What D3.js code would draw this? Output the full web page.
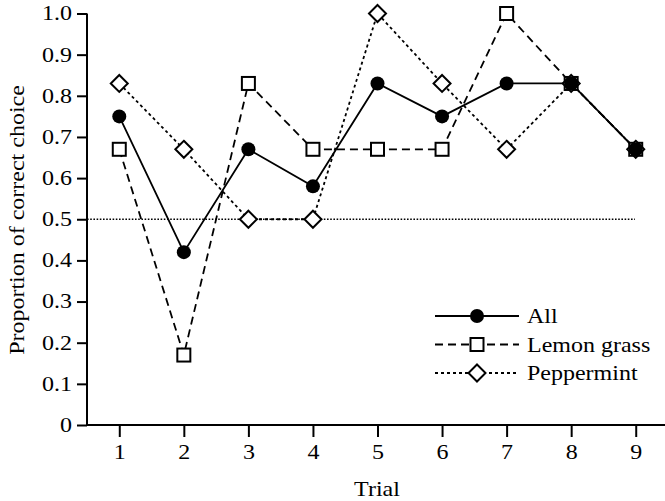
<!DOCTYPE html>
<html><head><meta charset="utf-8">
<script src="https://cdn.jsdelivr.net/npm/d3@7"></script>
<style>body{margin:0;background:#fff}svg{display:block}text{font-family:"Liberation Serif","Times New Roman",serif;fill:#000}</style>
</head><body><svg id="c" width="665" height="501"></svg>
<script>
const trials = [1,2,3,4,5,6,7,8,9];
const allVals = [0.75,0.42,0.67,0.58,0.83,0.75,0.83,0.83,0.67];
const lemonVals = [0.67,0.17,0.83,0.67,0.67,0.67,1.0,0.83,0.67];
const pepperVals = [0.83,0.67,0.5,0.5,1.0,0.83,0.67,0.83,0.67];
const yTicks = [0,0.1,0.2,0.3,0.4,0.5,0.6,0.7,0.8,0.9,1.0];
const seriesNames = ["All","Lemon grass","Peppermint"];
const chance = 0.5;

const SX = 1.2; // horizontal stretch of the serif font
const FS = "20px";
const svg = d3.select("#c");
const x = d3.scaleLinear().domain([0.5,9.5]).range([87,668]);
const y = d3.scaleLinear().domain([0,1]).range([425,13.5]);

function stretch(sel){
  sel.each(function(){
    const t = d3.select(this);
    const tx = +t.attr("x")||0, ty = +t.attr("y")||0;
    const pre = t.attr("data-rot") ? ` rotate(${t.attr("data-rot")})` : "";
    t.attr("x",0).attr("y",0).attr("transform",`translate(${tx},${ty})${pre} scale(${SX},1)`);
  });
}

// axes
const xa = svg.append("g").attr("transform","translate(0,425)")
  .call(d3.axisBottom(x).tickValues(trials).tickSize(12).tickPadding(8).tickFormat(d3.format("d")));
xa.select(".domain").attr("d","M87,0H665").attr("stroke-width",2);
const ya = svg.append("g").attr("transform","translate(87,0)")
  .call(d3.axisLeft(y).tickValues(yTicks).tickSize(10).tickPadding(5).tickFormat(d=>d===0?"0":d3.format(".1f")(d)));
ya.select(".domain").attr("d","M0,13.5V425").attr("stroke-width",2);
svg.selectAll(".tick line").attr("stroke-width",2);
svg.selectAll(".tick text").style("font-size",FS).style("font-family",'"Liberation Serif",serif');
stretch(svg.selectAll(".tick text"));

// chance line
svg.append("line").attr("x1",x(0.5)).attr("x2",635).attr("y1",y(chance)).attr("y2",y(chance))
  .attr("stroke","#000").attr("stroke-width",1.3).attr("stroke-dasharray","1.6,1.6");

const styles = [
  {vals:allVals, dash:null, marker:"circle"},
  {vals:lemonVals, dash:"8,5", marker:"square"},
  {vals:pepperVals, dash:"3,3", marker:"diamond"}
];
const line = d3.line().x((d,i)=>x(trials[i])).y(d=>y(d));
function drawMarker(g, type, cx, cy){
  if(type==="circle") g.append("circle").attr("cx",cx).attr("cy",cy).attr("r",7).attr("fill","#000");
  else if(type==="square") g.append("rect").attr("x",cx-6.5).attr("y",cy-6.5).attr("width",13).attr("height",13)
    .attr("fill","#fff").attr("stroke","#000").attr("stroke-width",2);
  else g.append("path").attr("d",`M${cx},${cy-8.5}L${cx+8.5},${cy}L${cx},${cy+8.5}L${cx-8.5},${cy}Z`)
    .attr("fill","#fff").attr("stroke","#000").attr("stroke-width",2);
}
[1,2,0].forEach(k=>{
  const s = styles[k];
  svg.append("path").attr("d",line(s.vals)).attr("fill","none").attr("stroke","#000")
    .attr("stroke-width",1.8).attr("stroke-dasharray",s.dash);
});
[1,2,0].forEach(k=>{
  const s = styles[k];
  const g = svg.append("g");
  s.vals.forEach((v,i)=>drawMarker(g, s.marker, x(trials[i]), y(v)));
});

// legend
const lg = svg.append("g");
seriesNames.forEach((n,i)=>{
  const ly = 316 + i*28.5;
  lg.append("line").attr("x1",435).attr("x2",519).attr("y1",ly).attr("y2",ly)
    .attr("stroke","#000").attr("stroke-width",1.8).attr("stroke-dasharray",styles[i].dash);
  drawMarker(lg, styles[i].marker, 477, ly);
  lg.append("text").attr("class","st").attr("x",527).attr("y",ly+7).style("font-size",FS).text(n);
});

// titles
svg.append("text").attr("class","st").attr("x",377).attr("y",496).attr("text-anchor","middle").style("font-size",FS).text("Trial");
svg.append("text").attr("class","st").attr("x",24).attr("y",220).attr("data-rot",-90).attr("text-anchor","middle")
  .style("font-size",FS).text("Proportion of correct choice");
stretch(svg.selectAll("text.st"));
</script></body></html>
